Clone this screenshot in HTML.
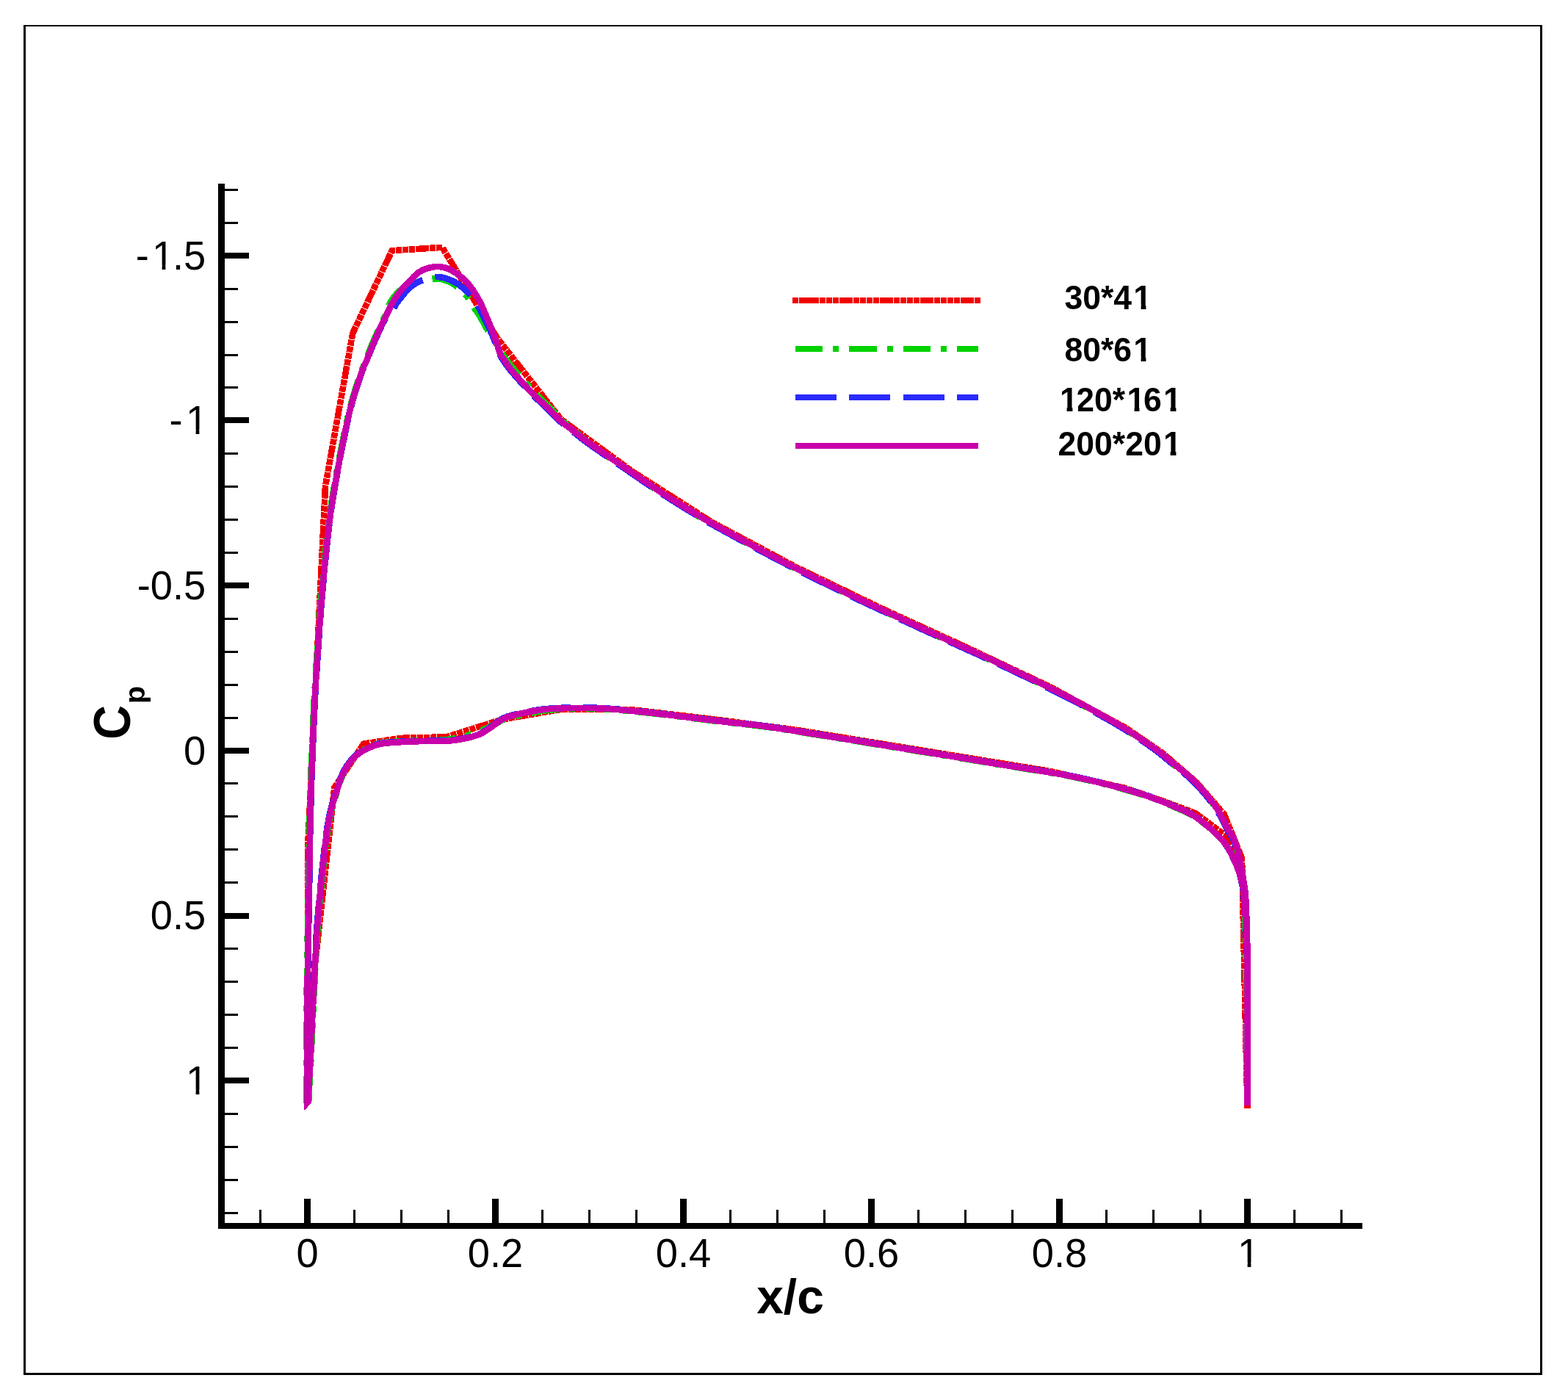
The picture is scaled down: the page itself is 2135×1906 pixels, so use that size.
<!DOCTYPE html>
<html lang="en"><head><meta charset="utf-8"><title>Cp distribution - grid convergence</title>
<style>
html,body{margin:0;padding:0;background:#fff;}
body{width:2135px;height:1906px;overflow:hidden;}
svg{display:block;}
text{font-family:"Liberation Sans",sans-serif;fill:#000;}
.tk{font-size:54.3px;}
.ttl{font-size:66px;font-weight:bold;}
.lg{font-size:44.5px;font-weight:bold;}
.c{fill:none;stroke-width:8.6;stroke-linejoin:miter;stroke-linecap:butt;}
</style></head><body>
<svg width="2135" height="1906" viewBox="0 0 2135 1906">
<defs><clipPath id="digits"><path clip-rule="evenodd" d="M0,0H2135V1906H0Z M209.7,360.8H220.6V368H209.7Z M225.4,360.8H236.3V368H225.4Z M255.7,584.8H266.6V592H255.7Z M271.4,584.8H282.3V592H271.4Z M255.7,1483.8H266.6V1491H255.7Z M271.4,1483.8H282.3V1491H271.4Z M1687.7,1718.8H1698.6V1726H1687.7Z M1703.4,1718.8H1714.3V1726H1703.4Z M1544.7,414.8H1553.6V422H1544.7Z M1560.4,414.8H1568.3V422H1560.4Z M1544.7,485.8H1553.6V493H1544.7Z M1560.4,485.8H1568.3V493H1560.4Z M1444.7,553.8H1452.6V561H1444.7Z M1460.4,553.8H1468V561H1460.4Z M1535.7,553.8H1544.6V561H1535.7Z M1551.4,553.8H1559.3V561H1551.4Z M1585.7,553.8H1593.6V561H1585.7Z M1601.4,553.8H1609.3V561H1601.4Z M1585.7,613.8H1593.6V621H1585.7Z M1601.4,613.8H1609.3V621H1601.4Z"/></clipPath></defs>
<rect x="0" y="0" width="2135" height="1906" fill="#fff"/>
<g fill="#000" shape-rendering="crispEdges">
<rect x="32" y="34" width="2068" height="2"/>
<rect x="32" y="1869" width="2068" height="3"/>
<rect x="32" y="34" width="3" height="1838"/>
<rect x="2097" y="34" width="3" height="1838"/>
<rect x="297" y="250" width="9" height="1423"/>
<rect x="297" y="1665" width="1558" height="8"/>
<rect x="306" y="257" width="18" height="3"/>
<rect x="306" y="302" width="18" height="3"/>
<rect x="306" y="344" width="33" height="8"/>
<rect x="306" y="392" width="18" height="3"/>
<rect x="306" y="437" width="18" height="3"/>
<rect x="306" y="482" width="18" height="3"/>
<rect x="306" y="526" width="18" height="3"/>
<rect x="306" y="568" width="33" height="8"/>
<rect x="306" y="616" width="18" height="3"/>
<rect x="306" y="661" width="18" height="3"/>
<rect x="306" y="706" width="18" height="3"/>
<rect x="306" y="751" width="18" height="3"/>
<rect x="306" y="793" width="33" height="8"/>
<rect x="306" y="841" width="18" height="3"/>
<rect x="306" y="886" width="18" height="3"/>
<rect x="306" y="931" width="18" height="3"/>
<rect x="306" y="976" width="18" height="3"/>
<rect x="306" y="1018" width="33" height="8"/>
<rect x="306" y="1065" width="18" height="3"/>
<rect x="306" y="1110" width="18" height="3"/>
<rect x="306" y="1155" width="18" height="3"/>
<rect x="306" y="1200" width="18" height="3"/>
<rect x="306" y="1243" width="33" height="8"/>
<rect x="306" y="1290" width="18" height="3"/>
<rect x="306" y="1335" width="18" height="3"/>
<rect x="306" y="1380" width="18" height="3"/>
<rect x="306" y="1425" width="18" height="3"/>
<rect x="306" y="1467" width="33" height="8"/>
<rect x="306" y="1515" width="18" height="3"/>
<rect x="306" y="1560" width="18" height="3"/>
<rect x="306" y="1605" width="18" height="3"/>
<rect x="306" y="1650" width="18" height="3"/>
<rect x="353" y="1647" width="3" height="18"/>
<rect x="414" y="1632" width="9" height="33"/>
<rect x="481" y="1647" width="3" height="18"/>
<rect x="545" y="1647" width="3" height="18"/>
<rect x="609" y="1647" width="3" height="18"/>
<rect x="670" y="1632" width="9" height="33"/>
<rect x="737" y="1647" width="3" height="18"/>
<rect x="801" y="1647" width="3" height="18"/>
<rect x="865" y="1647" width="3" height="18"/>
<rect x="926" y="1632" width="9" height="33"/>
<rect x="993" y="1647" width="3" height="18"/>
<rect x="1057" y="1647" width="3" height="18"/>
<rect x="1121" y="1647" width="3" height="18"/>
<rect x="1182" y="1632" width="9" height="33"/>
<rect x="1249" y="1647" width="3" height="18"/>
<rect x="1313" y="1647" width="3" height="18"/>
<rect x="1377" y="1647" width="3" height="18"/>
<rect x="1438" y="1632" width="9" height="33"/>
<rect x="1505" y="1647" width="3" height="18"/>
<rect x="1569" y="1647" width="3" height="18"/>
<rect x="1633" y="1647" width="3" height="18"/>
<rect x="1694" y="1632" width="9" height="33"/>
<rect x="1761" y="1647" width="3" height="18"/>
<rect x="1825" y="1647" width="3" height="18"/>
</g>
<g class="c" shape-rendering="crispEdges">
<path d="M418.5,1503.0 L419.3,1150.0 L443.0,662.0 L480.2,453.8 L533.7,341.2 L602.2,336.8 L677.0,460.3 L764.0,571.0 L860.9,641.8 L969.7,711.1 L1084.9,772.6 L1200.1,828.2 L1315.3,881.0 L1430.5,935.4 L1532.9,991.0 L1583.5,1025.6 L1629.5,1065.5 L1667.0,1109.0 L1691.0,1168.5 L1698.5,1509.0" stroke="#f00000" stroke-dasharray="18 1 8 1 8 1 8 1 8 1"/>
<path d="M418.5,1503.0 L420.0,1395.0 L455.4,1072.0 L495.0,1012.7 L545.3,1004.9 L608.0,1003.3 L683.6,979.5 L764.0,965.8 L860.1,966.2 L968.9,978.9 L1084.1,993.7 L1199.3,1012.4 L1314.5,1031.2 L1429.7,1049.9 L1532.1,1073.0 L1583.0,1090.3 L1628.0,1107.3 L1667.0,1136.2 L1691.0,1168.5" stroke="#f00000" stroke-dasharray="18 1 8 1 8 1 8 1 8 1"/>
<path d="M417.2,1502.0 L417.2,1494.4 L417.2,1486.9 L417.2,1479.4 L417.2,1472.0 L417.2,1464.4 L417.2,1456.6 L417.2,1448.5 L417.2,1440.0 L417.2,1428.6 L417.3,1416.8 L417.4,1404.6 L417.4,1392.0 L417.5,1379.0 L417.6,1365.7 L417.7,1352.0 L417.9,1338.0 L418.1,1319.7 L418.4,1300.1 L418.7,1279.7 L419.1,1258.9 L419.4,1238.1 L419.8,1217.8 L420.2,1198.3 L420.5,1180.0 L420.7,1166.5 L421.0,1153.6 L421.2,1141.2 L421.4,1129.1 L421.7,1117.2 L421.9,1105.1 L422.2,1092.8 L422.6,1080.0 L423.1,1065.2 L423.6,1049.8 L424.2,1034.0 L424.8,1018.1 L425.5,1002.5 L426.1,987.4 L426.8,973.1 L427.4,960.0 L427.8,951.6 L428.2,943.9 L428.7,936.7 L429.1,929.7 L429.5,922.7 L430.0,915.6 L430.5,908.1 L431.0,900.0 L431.8,888.7 L432.6,876.8 L433.4,864.4 L434.4,851.6 L435.3,838.6 L436.3,825.6 L437.4,812.7 L438.5,800.0 L439.7,787.3 L440.9,774.2 L442.2,761.0 L443.5,747.8 L444.9,735.0 L446.3,722.6 L447.7,710.8 L449.1,700.0 L450.1,692.9 L451.1,686.3 L452.0,680.0 L453.0,673.9 L454.0,668.0 L455.1,662.1 L456.1,656.1 L457.2,650.0 L458.3,643.8 L459.4,637.5 L460.6,631.3 L461.7,625.1 L462.9,618.8 L464.1,612.6 L465.4,606.3 L466.7,600.0 L468.1,593.4 L469.4,586.8 L470.8,580.1 L472.3,573.3 L473.8,566.7 L475.3,560.0 L477.0,553.5 L478.7,547.0 L480.5,540.7 L482.5,534.2 L484.6,527.6 L486.7,521.1 L488.8,514.9 L490.8,509.2 L492.6,504.2 L494.2,500.0 L494.8,498.4 L495.5,497.0 L496.0,495.7 L496.6,494.5 L497.1,493.4 L497.6,492.3 L498.1,491.2 L498.6,490.0 L499.1,488.8 L499.5,487.6 L499.8,486.5 L500.2,485.3 L500.6,484.1 L501.0,482.9 L501.5,481.5 L502.0,480.1 L503.0,477.5 L504.1,474.7 L505.4,471.6 L506.8,468.4 L508.2,465.1 L509.6,461.8 L511.0,458.6 L512.4,455.4 L513.8,452.3 L515.3,449.1 L516.8,445.9 L518.4,442.8 L519.9,439.7 L521.4,436.6 L522.7,433.6 L524.0,430.7 L524.9,428.4 L525.7,426.1 L526.5,423.9 L527.2,421.7 L527.9,419.6 L528.7,417.5 L529.5,415.5 L530.5,413.5 L531.5,411.7 L532.6,409.8 L533.8,408.0 L535.0,406.3 L536.2,404.6 L537.5,403.0 L538.7,401.5 L540.0,400.0 L541.1,398.8 L542.1,397.7 L543.2,396.6 L544.3,395.6 L545.5,394.7 L546.6,393.7 L547.8,392.9 L549.0,392.0 L550.3,391.2 L551.6,390.4 L553.0,389.7 L554.4,389.0 L555.8,388.3 L557.2,387.7 L558.6,387.1 L560.0,386.5 L561.4,386.0 L562.7,385.5 L564.1,385.0 L565.4,384.6 L566.8,384.2 L568.2,383.8 L569.6,383.4 L571.0,383.0 L572.5,382.6 L573.9,382.2 L575.4,381.8 L576.9,381.4 L578.4,381.1 L580.0,380.7 L581.5,380.5 L583.0,380.2 L584.5,380.0 L586.1,379.8 L587.7,379.6 L589.2,379.4 L590.8,379.3 L592.4,379.2 L593.9,379.2 L595.4,379.3 L596.8,379.4 L598.1,379.6 L599.5,379.8 L600.8,380.1 L602.2,380.4 L603.5,380.8 L604.7,381.1 L606.0,381.5 L607.1,381.9 L608.2,382.2 L609.3,382.7 L610.4,383.1 L611.5,383.5 L612.5,384.0 L613.5,384.5 L614.5,385.0 L615.4,385.5 L616.3,386.0 L617.2,386.5 L618.0,387.1 L618.8,387.7 L619.7,388.3 L620.5,388.9 L621.3,389.5 L622.2,390.2 L623.0,390.9 L623.9,391.6 L624.7,392.4 L625.5,393.2 L626.4,394.0 L627.2,394.7 L628.0,395.5 L628.8,396.2 L629.6,397.0 L630.5,397.7 L631.3,398.4 L632.1,399.2 L632.9,400.0 L633.7,400.8 L634.4,401.6 L635.2,402.6 L635.9,403.6 L636.6,404.6 L637.3,405.7 L638.0,406.7 L638.6,407.8 L639.3,408.9 L640.0,410.0 L640.7,411.1 L641.4,412.2 L642.0,413.3 L642.7,414.4 L643.4,415.6 L644.1,416.7 L644.8,417.8 L645.5,419.0 L646.4,420.3 L647.2,421.5 L648.2,422.8 L649.1,424.1 L650.0,425.4 L651.0,426.7 L651.9,428.1 L652.9,429.6 L654.1,431.6 L655.3,433.7 L656.5,435.9 L657.7,438.1 L658.9,440.4 L660.1,442.7 L661.3,444.9 L662.6,447.1 L663.9,449.2 L665.2,451.2 L666.5,453.3 L667.9,455.4 L669.2,457.4 L670.5,459.3 L671.6,461.2 L672.7,463.0 L673.4,464.2 L674.0,465.4 L674.5,466.6 L675.1,467.7 L675.6,468.8 L676.1,469.8 L676.7,470.9 L677.3,472.0 L678.0,473.1 L678.8,474.3 L679.6,475.4 L680.5,476.6 L681.3,477.7 L682.1,478.8 L682.9,479.9 L683.7,481.0 L684.3,482.0 L684.9,482.9 L685.5,483.8 L686.1,484.7 L686.7,485.6 L687.3,486.5 L687.9,487.5 L688.6,488.5 L689.6,489.9 L690.8,491.5 L692.0,493.1 L693.2,494.7 L694.5,496.3 L695.7,498.0 L697.0,499.5 L698.2,501.0 L699.3,502.3 L700.3,503.5 L701.3,504.6 L702.4,505.8 L703.4,506.9 L704.4,508.1 L705.5,509.2 L706.5,510.4 L707.5,511.6 L708.5,512.7 L709.5,513.9 L710.5,515.0 L711.5,516.2 L712.5,517.3 L713.6,518.5 L714.6,519.7 L715.7,521.0 L716.9,522.3 L718.1,523.5 L719.2,524.8 L720.4,526.1 L721.6,527.4 L722.8,528.7 L724.0,530.0 L725.2,531.2 L726.3,532.5 L727.4,533.7 L728.6,534.9 L729.8,536.1 L730.9,537.3 L732.1,538.6 L733.3,539.8 L734.6,541.1 L735.9,542.4 L737.2,543.8 L738.6,545.1 L739.9,546.4 L741.3,547.7 L742.7,549.1 L744.0,550.4 L745.4,551.7 L746.8,553.1 L748.2,554.4 L749.6,555.8 L750.9,557.1 L752.3,558.5 L753.5,559.7 L754.7,561.0 L755.5,562.0 L756.3,562.9 L757.0,563.7 L757.6,564.6 L758.3,565.5 L759.1,566.4 L759.9,567.4 L760.9,568.4 L762.9,570.4 L765.1,572.5 L767.6,574.7 L770.3,577.1 L773.2,579.5 L776.2,582.0 L779.2,584.5 L782.3,587.1 L786.5,590.6 L791.1,594.3 L795.9,598.2 L800.8,602.1 L805.8,606.0 L810.6,609.7 L815.2,613.2 L819.4,616.3 L822.1,618.3 L824.7,620.1 L827.1,621.7 L829.5,623.3 L831.8,624.9 L834.2,626.4 L836.7,628.1 L839.4,629.9 L842.9,632.3 L846.5,634.8 L850.2,637.3 L854.0,639.9 L857.9,642.6 L861.8,645.3 L865.6,647.9 L869.4,650.5 L873.1,653.1 L876.9,655.6 L880.6,658.2 L884.4,660.7 L888.1,663.3 L891.9,665.8 L895.6,668.3 L899.4,670.8 L903.1,673.2 L906.9,675.6 L910.6,678.0 L914.4,680.4 L918.1,682.7 L921.9,685.0 L925.6,687.4 L929.4,689.7 L933.1,692.0 L936.7,694.2 L940.3,696.4 L943.9,698.6 L947.6,700.9 L951.3,703.2 L955.3,705.5 L959.4,707.9 L965.0,711.1 L971.0,714.5 L977.2,717.9 L983.6,721.4 L990.1,725.0 L996.6,728.5 L1003.1,732.1 L1009.4,735.5 L1015.6,738.9 L1021.9,742.3 L1028.1,745.6 L1034.4,749.0 L1040.6,752.3 L1046.9,755.6 L1053.1,758.9 L1059.4,762.2 L1065.6,765.4 L1071.9,768.6 L1078.1,771.8 L1084.4,774.9 L1090.6,778.1 L1096.9,781.2 L1103.1,784.3 L1109.4,787.4 L1115.5,790.4 L1121.5,793.4 L1127.4,796.3 L1133.3,799.1 L1139.4,802.1 L1145.7,805.1 L1152.3,808.3 L1159.4,811.7 L1170.2,816.8 L1182.0,822.3 L1194.4,828.1 L1207.2,834.1 L1220.4,840.2 L1233.6,846.3 L1246.7,852.3 L1259.4,858.2 L1272.0,863.9 L1284.6,869.7 L1297.3,875.4 L1310.0,881.1 L1322.6,886.8 L1335.0,892.4 L1347.3,898.1 L1359.4,903.7 L1370.5,908.9 L1381.6,914.2 L1392.7,919.5 L1403.6,924.8 L1414.3,930.0 L1424.5,935.0 L1434.3,939.8 L1443.4,944.4 L1449.6,947.5 L1455.4,950.5 L1461.0,953.4 L1466.3,956.2 L1471.5,958.9 L1476.7,961.7 L1481.9,964.6 L1487.3,967.5 L1492.9,970.6 L1498.6,973.8 L1504.3,977.0 L1510.0,980.2 L1515.6,983.4 L1521.0,986.6 L1526.3,989.8 L1531.3,992.8 L1535.2,995.2 L1539.0,997.6 L1542.6,1000.0 L1546.2,1002.3 L1549.7,1004.6 L1553.0,1006.9 L1556.3,1009.1 L1559.4,1011.2 L1561.8,1012.8 L1564.1,1014.4 L1566.3,1015.9 L1568.4,1017.4 L1570.5,1018.9 L1572.6,1020.4 L1574.8,1022.0 L1577.0,1023.7 L1579.7,1025.8 L1582.5,1028.1 L1585.3,1030.4 L1588.2,1032.8 L1591.0,1035.2 L1593.9,1037.6 L1596.7,1039.9 L1599.4,1042.2 L1601.9,1044.2 L1604.4,1046.2 L1606.8,1048.1 L1609.2,1050.0 L1611.7,1052.0 L1614.1,1054.0 L1616.5,1056.0 L1618.9,1058.2 L1621.6,1060.7 L1624.3,1063.4 L1627.0,1066.1 L1629.8,1068.8 L1632.4,1071.7 L1635.1,1074.5 L1637.6,1077.4 L1640.1,1080.2 L1642.4,1082.9 L1644.6,1085.7 L1646.8,1088.4 L1649.0,1091.2 L1651.1,1094.0 L1653.1,1096.8 L1654.9,1099.5 L1656.7,1102.1 L1658.1,1104.3 L1659.3,1106.4 L1660.6,1108.5 L1661.7,1110.6 L1662.8,1112.7 L1663.9,1114.7 L1664.9,1116.7 L1665.9,1118.6 L1666.7,1120.2 L1667.5,1121.7 L1668.2,1123.3 L1668.9,1124.8 L1669.6,1126.2 L1670.3,1127.7 L1671.1,1129.2 L1671.9,1130.7 L1672.8,1132.3 L1673.9,1133.8 L1674.9,1135.4 L1676.0,1137.0 L1677.1,1138.5 L1678.1,1140.1 L1679.0,1141.7 L1679.8,1143.2 L1680.4,1144.5 L1680.9,1145.8 L1681.3,1147.1 L1681.7,1148.4 L1682.1,1149.8 L1682.5,1151.1 L1682.8,1152.4 L1683.2,1153.7 L1683.6,1155.1 L1684.0,1156.4 L1684.4,1157.8 L1684.7,1159.2 L1685.1,1160.6 L1685.4,1161.9 L1685.8,1163.3 L1686.1,1164.7 L1686.4,1166.1 L1686.7,1167.4 L1687.0,1168.8 L1687.3,1170.2 L1687.6,1171.6 L1687.8,1172.9 L1688.1,1174.3 L1688.4,1175.7 L1688.7,1177.1 L1689.0,1178.4 L1689.3,1179.8 L1689.5,1181.2 L1689.8,1182.6 L1690.1,1183.9 L1690.3,1185.3 L1690.6,1186.7 L1690.8,1188.1 L1691.1,1189.5 L1691.3,1190.8 L1691.6,1192.2 L1691.8,1193.6 L1692.0,1195.0 L1692.2,1196.3 L1692.3,1197.7 L1692.4,1199.0 L1692.5,1200.3 L1692.5,1201.5 L1692.5,1202.8 L1692.5,1204.1 L1692.6,1205.4 L1692.6,1206.7 L1692.7,1208.0 L1692.8,1209.4 L1693.0,1210.8 L1693.1,1212.1 L1693.3,1213.5 L1693.5,1214.9 L1693.7,1216.5 L1693.8,1218.2 L1694.0,1220.0 L1694.3,1223.9 L1694.5,1228.4 L1694.7,1233.3 L1694.9,1238.5 L1695.1,1244.0 L1695.3,1249.5 L1695.4,1254.8 L1695.6,1260.0 L1695.7,1264.9 L1695.9,1269.6 L1696.0,1274.2 L1696.1,1278.9 L1696.1,1283.7 L1696.2,1288.7 L1696.3,1294.1 L1696.4,1300.0 L1696.5,1310.3 L1696.7,1321.8 L1696.8,1334.1 L1696.9,1347.0 L1697.0,1360.3 L1697.2,1373.8 L1697.3,1387.1 L1697.4,1400.0 L1697.5,1413.0 L1697.6,1426.1 L1697.7,1439.2 L1697.9,1452.3 L1698.0,1465.5 L1698.1,1478.7 L1698.2,1491.9 L1698.3,1505.0" stroke="#00d200" stroke-dasharray="37.3 14 8 14"/>
<path d="M420.1,1502.0 L420.1,1500.6 L420.2,1499.2 L420.2,1497.9 L420.3,1496.5 L420.3,1495.1 L420.4,1493.6 L420.4,1491.9 L420.5,1490.0 L420.7,1485.3 L421.1,1479.5 L421.5,1472.9 L421.9,1465.9 L422.4,1458.9 L422.8,1452.0 L423.2,1445.6 L423.5,1440.0 L423.7,1436.8 L423.8,1434.0 L423.9,1431.3 L424.0,1428.8 L424.0,1426.2 L424.1,1423.5 L424.3,1420.5 L424.4,1417.0 L424.7,1409.4 L425.2,1400.6 L425.6,1390.8 L426.1,1380.5 L426.7,1369.7 L427.2,1358.9 L427.8,1348.2 L428.3,1338.0 L428.8,1328.1 L429.3,1318.2 L429.9,1308.4 L430.4,1298.5 L430.9,1288.6 L431.5,1278.7 L432.2,1268.9 L432.9,1259.0 L433.7,1249.0 L434.5,1238.9 L435.4,1228.7 L436.3,1218.5 L437.3,1208.5 L438.3,1198.6 L439.2,1189.1 L440.2,1180.0 L441.0,1172.7 L441.7,1165.6 L442.5,1158.6 L443.3,1151.7 L444.1,1145.1 L444.9,1138.7 L445.7,1132.7 L446.6,1127.0 L447.2,1123.2 L447.9,1119.5 L448.5,1116.0 L449.2,1112.7 L449.9,1109.4 L450.6,1106.2 L451.3,1103.1 L452.1,1100.0 L452.8,1097.3 L453.5,1094.8 L454.3,1092.2 L455.1,1089.8 L455.8,1087.3 L456.6,1084.9 L457.4,1082.5 L458.2,1080.0 L459.0,1077.5 L459.7,1075.0 L460.5,1072.6 L461.3,1070.1 L462.1,1067.6 L462.9,1065.2 L463.7,1062.8 L464.6,1060.5 L465.4,1058.4 L466.2,1056.4 L466.9,1054.4 L467.8,1052.5 L468.6,1050.6 L469.5,1048.7 L470.5,1046.8 L471.5,1045.0 L472.7,1043.1 L473.9,1041.2 L475.3,1039.4 L476.7,1037.5 L478.1,1035.8 L479.5,1034.1 L481.0,1032.5 L482.4,1031.0 L483.6,1029.8 L484.8,1028.6 L486.0,1027.6 L487.2,1026.6 L488.4,1025.6 L489.7,1024.7 L491.0,1023.8 L492.3,1022.9 L493.8,1021.9 L495.4,1020.9 L497.0,1020.0 L498.7,1019.2 L500.4,1018.3 L502.1,1017.5 L503.8,1016.7 L505.5,1016.0 L507.2,1015.3 L508.9,1014.6 L510.7,1014.0 L512.4,1013.4 L514.2,1012.9 L516.0,1012.4 L518.0,1011.9 L520.0,1011.5 L522.8,1011.0 L525.8,1010.6 L528.9,1010.3 L532.2,1010.1 L535.4,1009.9 L538.7,1009.7 L541.8,1009.5 L544.8,1009.3 L547.3,1009.1 L549.7,1009.0 L552.0,1008.8 L554.4,1008.7 L556.7,1008.6 L559.1,1008.5 L561.5,1008.4 L564.0,1008.3 L567.1,1008.2 L570.3,1008.2 L573.7,1008.2 L577.1,1008.1 L580.4,1008.1 L583.7,1008.1 L587.0,1008.1 L590.0,1008.0 L592.4,1007.9 L594.7,1007.9 L596.9,1007.9 L599.1,1007.8 L601.3,1007.7 L603.5,1007.6 L605.7,1007.4 L608.0,1007.2 L610.7,1006.8 L613.4,1006.4 L616.1,1005.9 L618.9,1005.3 L621.7,1004.7 L624.5,1004.1 L627.2,1003.4 L630.0,1002.8 L632.8,1002.0 L635.7,1001.2 L638.6,1000.4 L641.5,999.5 L644.3,998.7 L647.0,997.8 L649.6,996.9 L652.0,996.0 L653.7,995.3 L655.3,994.7 L656.8,994.0 L658.3,993.3 L659.8,992.6 L661.2,991.9 L662.6,991.3 L664.0,990.6 L665.3,990.0 L666.6,989.4 L667.8,988.8 L669.0,988.2 L670.3,987.6 L671.5,987.0 L672.7,986.4 L674.0,985.8 L675.4,985.1 L676.7,984.3 L678.1,983.6 L679.4,982.8 L680.8,982.0 L682.2,981.3 L683.6,980.6 L685.0,980.0 L686.3,979.5 L687.6,979.0 L688.9,978.7 L690.2,978.3 L691.5,978.0 L692.9,977.7 L694.4,977.3 L696.0,976.9 L698.6,976.3 L701.4,975.6 L704.5,974.8 L707.6,974.1 L710.8,973.4 L714.0,972.7 L717.1,972.0 L720.0,971.4 L722.4,970.9 L724.7,970.4 L726.9,970.0 L729.2,969.5 L731.4,969.1 L733.6,968.8 L735.8,968.4 L738.1,968.0 L740.5,967.7 L742.8,967.3 L745.2,967.0 L747.6,966.7 L750.0,966.4 L752.5,966.2 L755.1,965.9 L757.7,965.7 L761.1,965.4 L764.6,965.2 L768.3,965.0 L772.0,964.9 L775.8,964.7 L779.6,964.6 L783.4,964.5 L787.1,964.5 L790.8,964.4 L794.6,964.4 L798.4,964.4 L802.2,964.5 L806.0,964.6 L809.6,964.7 L813.2,964.8 L816.6,964.9 L819.2,965.0 L821.6,965.1 L823.9,965.3 L826.2,965.4 L828.5,965.6 L830.9,965.8 L833.5,966.0 L836.2,966.2 L840.5,966.5 L845.1,966.9 L849.9,967.4 L855.0,967.8 L860.1,968.3 L865.3,968.8 L870.4,969.3 L875.4,969.8 L880.3,970.3 L885.2,970.9 L890.1,971.4 L895.0,972.0 L899.9,972.5 L904.8,973.1 L909.7,973.7 L914.6,974.3 L919.5,974.9 L924.4,975.5 L929.3,976.1 L934.3,976.7 L939.2,977.4 L944.1,978.0 L949.0,978.6 L953.9,979.2 L958.8,979.8 L963.6,980.4 L968.4,981.0 L973.3,981.6 L978.1,982.1 L983.1,982.7 L988.0,983.3 L993.1,983.9 L998.7,984.5 L1004.2,985.1 L1009.7,985.7 L1015.4,986.3 L1021.2,986.9 L1027.2,987.6 L1033.4,988.3 L1040.0,989.2 L1049.7,990.6 L1060.1,992.1 L1071.0,993.8 L1082.3,995.5 L1093.7,997.4 L1105.3,999.3 L1116.7,1001.1 L1127.9,1002.9 L1138.9,1004.7 L1149.9,1006.4 L1160.9,1008.2 L1171.9,1010.0 L1182.8,1011.8 L1193.8,1013.6 L1204.8,1015.4 L1215.8,1017.2 L1226.9,1019.0 L1238.2,1020.8 L1249.6,1022.7 L1261.0,1024.5 L1272.2,1026.3 L1283.1,1028.1 L1293.6,1029.8 L1303.7,1031.5 L1311.3,1032.8 L1318.4,1033.9 L1325.2,1035.1 L1331.9,1036.2 L1338.6,1037.3 L1345.4,1038.5 L1352.5,1039.7 L1360.0,1040.9 L1370.0,1042.5 L1380.8,1044.2 L1392.0,1046.0 L1403.4,1047.8 L1414.7,1049.6 L1425.4,1051.3 L1435.3,1053.0 L1444.0,1054.5 L1448.7,1055.4 L1452.9,1056.1 L1456.7,1056.9 L1460.4,1057.6 L1464.0,1058.4 L1467.8,1059.2 L1471.7,1060.0 L1476.0,1061.0 L1482.3,1062.4 L1489.1,1064.0 L1496.2,1065.7 L1503.4,1067.5 L1510.8,1069.3 L1518.1,1071.2 L1525.2,1073.1 L1531.9,1075.0 L1537.8,1076.7 L1543.6,1078.4 L1549.4,1080.2 L1555.1,1082.0 L1560.6,1083.8 L1565.9,1085.6 L1571.0,1087.4 L1575.8,1089.1 L1579.2,1090.4 L1582.4,1091.6 L1585.4,1092.8 L1588.4,1094.1 L1591.2,1095.3 L1594.1,1096.5 L1597.0,1097.8 L1600.0,1099.1 L1603.2,1100.5 L1606.4,1101.8 L1609.6,1103.2 L1612.8,1104.6 L1616.0,1106.0 L1619.1,1107.5 L1622.1,1109.0 L1625.0,1110.7 L1627.6,1112.3 L1630.1,1114.0 L1632.5,1115.7 L1634.9,1117.6 L1637.2,1119.4 L1639.4,1121.2 L1641.5,1122.9 L1643.6,1124.6 L1645.2,1125.8 L1646.6,1127.0 L1648.1,1128.2 L1649.4,1129.4 L1650.8,1130.5 L1652.1,1131.7 L1653.4,1133.0 L1654.8,1134.2 L1656.3,1135.6 L1657.7,1137.0 L1659.2,1138.5 L1660.7,1140.0 L1662.1,1141.5 L1663.5,1143.0 L1664.9,1144.6 L1666.2,1146.2 L1667.4,1147.7 L1668.6,1149.4 L1669.7,1151.0 L1670.8,1152.7 L1671.9,1154.4 L1672.9,1156.0 L1673.9,1157.7 L1674.8,1159.3 L1675.6,1160.8 L1676.4,1162.2 L1677.1,1163.6 L1677.8,1165.0 L1678.5,1166.4 L1679.1,1167.8 L1679.8,1169.2 L1680.4,1170.6 L1681.0,1172.0 L1681.6,1173.4 L1682.2,1174.8 L1682.8,1176.2 L1683.4,1177.6 L1683.9,1179.0 L1684.5,1180.5 L1685.0,1181.9 L1685.5,1183.3 L1686.1,1184.7 L1686.6,1186.2 L1687.1,1187.6 L1687.6,1189.0 L1688.1,1190.4 L1688.6,1191.8 L1689.0,1193.2 L1689.3,1194.3 L1689.6,1195.3 L1689.9,1196.4 L1690.1,1197.4 L1690.4,1198.4 L1690.6,1199.5 L1690.9,1200.5 L1691.1,1201.5 L1691.3,1202.6 L1691.6,1203.6 L1691.8,1204.7 L1692.1,1205.7 L1692.3,1206.8 L1692.5,1207.9 L1692.7,1208.9 L1692.9,1210.0 L1693.1,1211.2 L1693.2,1212.3 L1693.3,1213.4 L1693.4,1214.6 L1693.6,1215.8 L1693.7,1217.0 L1693.8,1218.5 L1693.9,1220.0 L1694.2,1223.8 L1694.5,1228.2 L1694.9,1233.1 L1695.2,1238.4 L1695.6,1243.8 L1695.9,1249.4 L1696.2,1254.8 L1696.5,1260.0 L1696.8,1265.0 L1697.0,1270.0 L1697.2,1275.0 L1697.4,1280.0 L1697.6,1285.0 L1697.8,1290.0 L1698.0,1295.0 L1698.2,1300.0" stroke="#00d200" stroke-dasharray="37.3 14 8 14"/>
<path d="M418.3,1502.0 L418.3,1494.4 L418.3,1486.9 L418.3,1479.4 L418.3,1472.0 L418.3,1464.4 L418.3,1456.6 L418.3,1448.5 L418.3,1440.0 L418.3,1428.6 L418.4,1416.8 L418.5,1404.6 L418.5,1392.0 L418.6,1379.0 L418.7,1365.7 L418.8,1352.0 L419.0,1338.0 L419.2,1319.7 L419.5,1300.1 L419.8,1279.7 L420.2,1258.9 L420.5,1238.1 L420.9,1217.8 L421.3,1198.3 L421.6,1180.0 L421.8,1166.5 L422.1,1153.6 L422.3,1141.2 L422.5,1129.1 L422.8,1117.2 L423.0,1105.1 L423.3,1092.8 L423.7,1080.0 L424.2,1065.2 L424.7,1049.8 L425.3,1034.0 L425.9,1018.1 L426.6,1002.5 L427.2,987.4 L427.9,973.1 L428.5,960.0 L428.9,951.6 L429.3,943.9 L429.8,936.7 L430.2,929.7 L430.6,922.7 L431.1,915.6 L431.6,908.1 L432.1,900.0 L432.9,888.7 L433.7,876.8 L434.5,864.4 L435.5,851.6 L436.4,838.6 L437.4,825.6 L438.5,812.7 L439.6,800.0 L440.8,787.3 L442.0,774.2 L443.3,761.0 L444.6,747.8 L446.0,735.0 L447.4,722.6 L448.8,710.8 L450.2,700.0 L451.2,692.9 L452.2,686.3 L453.1,680.0 L454.1,673.9 L455.1,668.0 L456.2,662.1 L457.2,656.1 L458.3,650.0 L459.4,643.8 L460.5,637.5 L461.7,631.3 L462.8,625.1 L464.0,618.8 L465.2,612.6 L466.5,606.3 L467.8,600.0 L469.2,593.4 L470.5,586.8 L471.9,580.1 L473.4,573.3 L474.9,566.7 L476.4,560.0 L478.1,553.5 L479.8,547.0 L481.6,540.7 L483.6,534.2 L485.7,527.6 L487.8,521.1 L489.9,514.9 L491.9,509.2 L493.7,504.2 L495.3,500.0 L496.0,498.4 L496.6,497.0 L497.2,495.7 L497.8,494.5 L498.3,493.4 L498.8,492.3 L499.4,491.2 L499.9,490.0 L500.4,488.8 L500.8,487.6 L501.3,486.5 L501.7,485.3 L502.1,484.1 L502.6,482.8 L503.1,481.5 L503.7,480.0 L504.8,477.4 L506.0,474.4 L507.3,471.3 L508.7,467.9 L510.2,464.6 L511.6,461.2 L513.0,458.0 L514.4,455.0 L515.5,452.5 L516.7,449.9 L517.9,447.4 L519.0,444.9 L520.1,442.5 L521.2,440.3 L522.3,438.3 L523.3,436.5 L523.9,435.6 L524.4,434.8 L524.9,434.1 L525.4,433.4 L525.9,432.8 L526.4,432.1 L526.9,431.4 L527.5,430.7 L528.3,429.7 L529.1,428.7 L530.0,427.7 L530.9,426.7 L531.8,425.7 L532.7,424.6 L533.6,423.5 L534.4,422.4 L535.2,421.2 L535.9,420.0 L536.6,418.8 L537.3,417.5 L538.0,416.2 L538.7,415.0 L539.4,413.7 L540.2,412.5 L541.1,411.2 L542.1,410.0 L543.0,408.7 L544.1,407.5 L545.1,406.2 L546.1,405.0 L547.1,403.8 L548.1,402.6 L549.0,401.5 L549.9,400.4 L550.7,399.3 L551.6,398.2 L552.4,397.1 L553.3,396.0 L554.2,395.0 L555.2,394.0 L556.2,393.0 L557.2,392.1 L558.3,391.2 L559.4,390.3 L560.5,389.4 L561.6,388.6 L562.8,387.8 L564.0,387.0 L565.3,386.2 L566.6,385.5 L567.9,384.8 L569.3,384.1 L570.7,383.4 L572.1,382.8 L573.4,382.2 L574.8,381.6 L576.1,381.1 L577.3,380.6 L578.6,380.1 L579.9,379.7 L581.2,379.3 L582.4,378.9 L583.7,378.6 L585.0,378.3 L586.3,378.0 L587.6,377.8 L588.9,377.6 L590.2,377.4 L591.5,377.3 L592.8,377.2 L594.1,377.1 L595.4,377.1 L596.6,377.1 L597.7,377.2 L598.9,377.3 L600.0,377.5 L601.2,377.6 L602.3,377.8 L603.4,378.1 L604.5,378.3 L605.6,378.6 L606.7,378.9 L607.7,379.2 L608.8,379.5 L609.8,379.9 L610.9,380.3 L611.9,380.8 L613.0,381.2 L614.2,381.7 L615.5,382.3 L616.7,382.8 L618.0,383.5 L619.2,384.1 L620.5,384.8 L621.7,385.5 L622.9,386.2 L624.1,387.0 L625.3,387.8 L626.4,388.7 L627.5,389.6 L628.6,390.6 L629.8,391.5 L630.9,392.5 L632.0,393.5 L633.2,394.6 L634.4,395.6 L635.6,396.7 L636.9,397.8 L638.1,399.0 L639.2,400.2 L640.4,401.4 L641.5,402.7 L642.7,404.2 L643.8,405.7 L644.9,407.2 L646.0,408.9 L647.0,410.5 L648.1,412.2 L649.1,413.8 L650.1,415.5 L651.1,417.2 L652.1,418.9 L653.1,420.6 L654.0,422.3 L654.9,424.1 L655.9,425.9 L656.8,427.7 L657.8,429.6 L658.9,431.8 L660.1,434.1 L661.3,436.5 L662.5,438.9 L663.7,441.4 L664.8,443.8 L665.9,446.2 L667.0,448.5 L667.9,450.6 L668.9,452.8 L669.8,455.0 L670.7,457.2 L671.5,459.3 L672.3,461.3 L673.1,463.1 L673.8,464.7 L674.2,465.5 L674.5,466.2 L674.8,466.8 L675.2,467.4 L675.5,468.0 L675.8,468.6 L676.1,469.2 L676.4,470.0 L676.9,471.3 L677.3,472.7 L677.7,474.2 L678.1,475.8 L678.5,477.5 L679.0,479.2 L679.6,480.9 L680.4,482.6 L681.7,485.1 L683.4,487.8 L685.2,490.7 L687.2,493.5 L689.2,496.4 L691.3,499.1 L693.2,501.6 L694.9,503.9 L696.0,505.3 L697.1,506.6 L698.1,507.8 L699.1,509.0 L700.2,510.1 L701.2,511.2 L702.2,512.3 L703.2,513.5 L704.2,514.7 L705.2,515.8 L706.2,517.0 L707.2,518.1 L708.3,519.3 L709.3,520.5 L710.3,521.6 L711.4,522.8 L712.6,524.1 L713.7,525.3 L714.9,526.6 L716.1,527.9 L717.3,529.2 L718.6,530.5 L719.8,531.7 L721.0,533.0 L722.2,534.2 L723.4,535.4 L724.6,536.6 L725.7,537.8 L726.9,539.0 L728.1,540.2 L729.4,541.4 L730.6,542.6 L731.9,543.9 L733.3,545.2 L734.7,546.5 L736.1,547.8 L737.4,549.1 L738.8,550.4 L740.2,551.7 L741.6,553.0 L743.0,554.4 L744.4,555.8 L745.9,557.2 L747.3,558.6 L748.7,560.0 L750.1,561.3 L751.4,562.6 L752.6,563.9 L753.5,564.8 L754.3,565.7 L755.0,566.5 L755.7,567.4 L756.5,568.2 L757.3,569.0 L758.2,569.9 L759.2,570.9 L761.2,572.6 L763.4,574.5 L765.9,576.5 L768.5,578.6 L771.2,580.7 L773.9,582.8 L776.6,584.9 L779.2,586.9 L781.7,588.9 L784.2,590.9 L786.7,592.8 L789.2,594.8 L791.7,596.8 L794.2,598.7 L796.7,600.6 L799.2,602.5 L801.7,604.3 L804.2,606.1 L806.7,607.9 L809.2,609.6 L811.7,611.3 L814.2,613.1 L816.7,614.8 L819.2,616.5 L821.7,618.2 L824.1,619.9 L826.5,621.5 L828.9,623.1 L831.4,624.8 L833.9,626.5 L836.5,628.3 L839.2,630.1 L842.7,632.5 L846.3,635.0 L850.0,637.5 L853.8,640.1 L857.7,642.8 L861.6,645.5 L865.4,648.1 L869.2,650.7 L872.9,653.3 L876.7,655.8 L880.4,658.4 L884.2,660.9 L887.9,663.5 L891.7,666.0 L895.4,668.5 L899.2,671.0 L902.9,673.4 L906.7,675.8 L910.4,678.2 L914.2,680.6 L917.9,682.9 L921.7,685.2 L925.4,687.6 L929.2,689.9 L932.9,692.2 L936.5,694.4 L940.1,696.6 L943.7,698.8 L947.4,701.1 L951.1,703.4 L955.1,705.7 L959.2,708.1 L964.8,711.3 L970.8,714.7 L977.0,718.1 L983.4,721.6 L989.9,725.2 L996.4,728.7 L1002.9,732.3 L1009.2,735.7 L1015.4,739.1 L1021.7,742.5 L1027.9,745.8 L1034.2,749.2 L1040.4,752.5 L1046.7,755.8 L1052.9,759.1 L1059.2,762.4 L1065.4,765.6 L1071.7,768.8 L1077.9,772.0 L1084.2,775.1 L1090.4,778.3 L1096.7,781.4 L1102.9,784.5 L1109.2,787.6 L1115.3,790.6 L1121.3,793.6 L1127.2,796.5 L1133.1,799.3 L1139.2,802.3 L1145.5,805.3 L1152.1,808.5 L1159.2,811.9 L1170.0,817.0 L1181.8,822.5 L1194.2,828.3 L1207.0,834.3 L1220.2,840.4 L1233.4,846.5 L1246.5,852.5 L1259.2,858.4 L1271.8,864.1 L1284.4,869.9 L1297.1,875.6 L1309.8,881.3 L1322.4,887.0 L1334.8,892.6 L1347.1,898.3 L1359.2,903.9 L1370.3,909.1 L1381.4,914.4 L1392.5,919.7 L1403.4,925.0 L1414.1,930.2 L1424.3,935.2 L1434.1,940.0 L1443.2,944.6 L1449.4,947.7 L1455.2,950.7 L1460.8,953.6 L1466.1,956.4 L1471.3,959.1 L1476.5,961.9 L1481.7,964.8 L1487.1,967.7 L1492.7,970.8 L1498.4,974.0 L1504.1,977.2 L1509.8,980.4 L1515.4,983.6 L1520.8,986.8 L1526.1,990.0 L1531.1,993.0 L1535.0,995.4 L1538.8,997.8 L1542.4,1000.2 L1546.0,1002.5 L1549.5,1004.8 L1552.8,1007.1 L1556.1,1009.3 L1559.2,1011.4 L1561.6,1013.0 L1563.9,1014.6 L1566.1,1016.1 L1568.2,1017.6 L1570.3,1019.1 L1572.4,1020.6 L1574.6,1022.2 L1576.8,1023.9 L1579.5,1026.0 L1582.3,1028.3 L1585.1,1030.6 L1588.0,1033.0 L1590.8,1035.4 L1593.7,1037.8 L1596.5,1040.1 L1599.2,1042.4 L1601.7,1044.4 L1604.2,1046.4 L1606.6,1048.3 L1609.0,1050.2 L1611.5,1052.2 L1613.9,1054.2 L1616.3,1056.2 L1618.7,1058.4 L1621.4,1060.9 L1624.1,1063.6 L1626.8,1066.3 L1629.6,1069.0 L1632.2,1071.9 L1634.9,1074.7 L1637.4,1077.6 L1639.9,1080.4 L1642.2,1083.1 L1644.4,1085.9 L1646.6,1088.6 L1648.8,1091.4 L1650.9,1094.2 L1652.9,1097.0 L1654.7,1099.7 L1656.5,1102.3 L1657.9,1104.5 L1659.1,1106.6 L1660.4,1108.7 L1661.5,1110.8 L1662.6,1112.9 L1663.7,1114.9 L1664.7,1116.9 L1665.7,1118.8 L1666.5,1120.4 L1667.3,1121.9 L1668.0,1123.5 L1668.7,1125.0 L1669.4,1126.4 L1670.1,1127.9 L1670.9,1129.4 L1671.7,1130.9 L1672.6,1132.5 L1673.7,1134.0 L1674.7,1135.6 L1675.8,1137.2 L1676.9,1138.7 L1677.9,1140.3 L1678.8,1141.9 L1679.6,1143.4 L1680.2,1144.7 L1680.7,1146.0 L1681.1,1147.3 L1681.5,1148.6 L1681.9,1150.0 L1682.3,1151.3 L1682.6,1152.6 L1683.0,1153.9 L1683.4,1155.3 L1683.8,1156.6 L1684.2,1158.0 L1684.5,1159.4 L1684.9,1160.8 L1685.2,1162.1 L1685.6,1163.5 L1685.9,1164.9 L1686.2,1166.3 L1686.5,1167.6 L1686.8,1169.0 L1687.1,1170.4 L1687.4,1171.8 L1687.6,1173.1 L1687.9,1174.5 L1688.2,1175.9 L1688.5,1177.3 L1688.8,1178.6 L1689.1,1180.0 L1689.3,1181.4 L1689.6,1182.8 L1689.9,1184.1 L1690.1,1185.5 L1690.4,1186.9 L1690.6,1188.3 L1690.8,1189.7 L1691.0,1191.0 L1691.2,1192.4 L1691.4,1193.8 L1691.6,1195.2 L1691.8,1196.6 L1692.1,1197.9 L1692.4,1199.2 L1692.7,1200.4 L1693.0,1201.7 L1693.4,1202.9 L1693.7,1204.2 L1694.0,1205.4 L1694.3,1206.7 L1694.6,1208.0 L1694.8,1209.4 L1695.0,1210.8 L1695.2,1212.1 L1695.4,1213.5 L1695.5,1214.9 L1695.6,1216.5 L1695.8,1218.2 L1695.9,1220.0 L1696.2,1223.9 L1696.4,1228.4 L1696.6,1233.3 L1696.9,1238.5 L1697.1,1244.0 L1697.3,1249.4 L1697.4,1254.8 L1697.6,1260.0 L1697.7,1264.9 L1697.9,1269.6 L1698.0,1274.2 L1698.1,1278.9 L1698.2,1283.7 L1698.3,1288.7 L1698.3,1294.1 L1698.4,1300.0 L1698.5,1310.3 L1698.5,1321.8 L1698.5,1334.1 L1698.5,1347.0 L1698.5,1360.3 L1698.5,1373.8 L1698.5,1387.1 L1698.5,1400.0 L1698.5,1413.0 L1698.5,1426.1 L1698.5,1439.2 L1698.5,1452.3 L1698.5,1465.5 L1698.5,1478.7 L1698.5,1491.9 L1698.5,1505.0" stroke="#2a2aff" stroke-dasharray="56 17.3"/>
<path d="M419.0,1501.5 L419.0,1500.1 L419.1,1498.7 L419.1,1497.4 L419.2,1496.0 L419.2,1494.6 L419.3,1493.1 L419.3,1491.4 L419.4,1489.5 L419.6,1484.8 L420.0,1479.0 L420.4,1472.4 L420.8,1465.4 L421.3,1458.4 L421.7,1451.5 L422.1,1445.1 L422.4,1439.5 L422.6,1436.3 L422.7,1433.5 L422.8,1430.8 L422.9,1428.3 L422.9,1425.7 L423.0,1423.0 L423.2,1420.0 L423.3,1416.5 L423.6,1408.9 L424.1,1400.1 L424.5,1390.3 L425.0,1380.0 L425.6,1369.2 L426.1,1358.4 L426.7,1347.7 L427.2,1337.5 L427.7,1327.6 L428.2,1317.7 L428.8,1307.9 L429.3,1298.0 L429.8,1288.1 L430.4,1278.2 L431.1,1268.4 L431.8,1258.5 L432.6,1248.5 L433.4,1238.4 L434.3,1228.2 L435.2,1218.0 L436.2,1208.0 L437.2,1198.1 L438.1,1188.6 L439.1,1179.5 L439.9,1172.2 L440.6,1165.1 L441.4,1158.1 L442.2,1151.2 L443.0,1144.6 L443.8,1138.2 L444.6,1132.2 L445.5,1126.5 L446.1,1122.7 L446.8,1119.0 L447.4,1115.5 L448.1,1112.2 L448.8,1108.9 L449.5,1105.7 L450.2,1102.6 L451.0,1099.5 L451.7,1096.8 L452.4,1094.3 L453.2,1091.7 L454.0,1089.3 L454.7,1086.8 L455.5,1084.4 L456.3,1082.0 L457.1,1079.5 L457.9,1077.0 L458.6,1074.5 L459.4,1072.0 L460.2,1069.6 L460.9,1067.1 L461.8,1064.7 L462.6,1062.3 L463.5,1060.0 L464.3,1057.9 L465.2,1055.9 L466.1,1053.9 L466.9,1052.0 L467.9,1050.1 L468.9,1048.2 L469.9,1046.3 L471.0,1044.5 L472.2,1042.7 L473.5,1040.8 L474.8,1039.0 L476.2,1037.2 L477.6,1035.4 L479.0,1033.8 L480.5,1032.2 L481.9,1030.7 L483.1,1029.5 L484.3,1028.4 L485.5,1027.4 L486.7,1026.4 L487.9,1025.5 L489.2,1024.6 L490.5,1023.7 L491.8,1022.8 L493.3,1021.9 L494.9,1021.0 L496.5,1020.1 L498.2,1019.2 L499.9,1018.4 L501.6,1017.6 L503.3,1016.9 L505.0,1016.2 L506.7,1015.5 L508.4,1014.9 L510.2,1014.3 L511.9,1013.8 L513.7,1013.3 L515.6,1012.8 L517.5,1012.4 L519.5,1012.0 L522.3,1011.5 L525.3,1011.2 L528.4,1010.9 L531.7,1010.6 L534.9,1010.4 L538.2,1010.2 L541.3,1010.0 L544.3,1009.8 L546.8,1009.6 L549.2,1009.5 L551.5,1009.3 L553.9,1009.2 L556.2,1009.1 L558.6,1009.0 L561.0,1008.9 L563.5,1008.8 L566.6,1008.7 L569.8,1008.7 L573.2,1008.6 L576.6,1008.6 L579.9,1008.6 L583.2,1008.5 L586.5,1008.5 L589.5,1008.5 L591.9,1008.5 L594.2,1008.5 L596.4,1008.5 L598.6,1008.5 L600.8,1008.5 L603.0,1008.5 L605.2,1008.4 L607.5,1008.3 L610.2,1008.1 L612.9,1007.9 L615.6,1007.6 L618.4,1007.3 L621.2,1006.9 L624.0,1006.5 L626.7,1006.0 L629.5,1005.5 L632.3,1004.9 L635.2,1004.3 L638.1,1003.6 L641.0,1002.9 L643.8,1002.1 L646.5,1001.3 L649.1,1000.4 L651.5,999.5 L653.2,998.7 L654.8,997.9 L656.4,997.1 L657.9,996.3 L659.3,995.4 L660.7,994.5 L662.1,993.6 L663.5,992.7 L664.8,991.9 L666.1,991.0 L667.3,990.2 L668.5,989.3 L669.8,988.4 L671.0,987.6 L672.2,986.7 L673.5,985.8 L674.8,984.8 L676.2,983.8 L677.6,982.8 L678.9,981.8 L680.3,980.7 L681.7,979.8 L683.1,978.9 L684.5,978.1 L685.8,977.5 L687.1,976.9 L688.4,976.4 L689.7,975.9 L691.0,975.5 L692.4,975.1 L693.9,974.7 L695.5,974.2 L698.1,973.5 L700.9,972.8 L703.9,972.0 L707.1,971.3 L710.3,970.6 L713.5,969.9 L716.6,969.3 L719.5,968.7 L721.9,968.2 L724.2,967.8 L726.4,967.4 L728.7,967.1 L730.9,966.7 L733.1,966.4 L735.3,966.1 L737.6,965.8 L740.0,965.5 L742.3,965.3 L744.7,965.0 L747.1,964.8 L749.5,964.6 L752.0,964.4 L754.6,964.3 L757.2,964.1 L760.6,963.9 L764.1,963.8 L767.8,963.6 L771.5,963.5 L775.3,963.4 L779.1,963.4 L782.9,963.3 L786.6,963.3 L790.3,963.3 L794.1,963.3 L797.9,963.4 L801.7,963.4 L805.5,963.5 L809.1,963.6 L812.7,963.8 L816.1,963.9 L818.7,964.0 L821.1,964.1 L823.4,964.3 L825.7,964.4 L828.0,964.6 L830.4,964.8 L833.0,965.0 L835.7,965.2 L840.0,965.5 L844.6,965.9 L849.4,966.4 L854.5,966.8 L859.6,967.3 L864.8,967.8 L869.9,968.3 L874.9,968.8 L879.8,969.3 L884.7,969.9 L889.6,970.4 L894.5,971.0 L899.4,971.5 L904.3,972.1 L909.2,972.7 L914.1,973.3 L919.0,973.9 L923.9,974.5 L928.8,975.1 L933.8,975.7 L938.7,976.4 L943.6,977.0 L948.5,977.6 L953.4,978.2 L958.3,978.8 L963.1,979.4 L967.9,980.0 L972.8,980.6 L977.6,981.1 L982.6,981.7 L987.5,982.3 L992.6,982.9 L998.2,983.5 L1003.7,984.1 L1009.2,984.7 L1014.9,985.3 L1020.7,985.9 L1026.7,986.6 L1032.9,987.3 L1039.5,988.2 L1049.2,989.6 L1059.6,991.1 L1070.5,992.8 L1081.8,994.5 L1093.2,996.4 L1104.8,998.3 L1116.2,1000.1 L1127.4,1001.9 L1138.4,1003.7 L1149.4,1005.4 L1160.4,1007.2 L1171.4,1009.0 L1182.3,1010.8 L1193.3,1012.6 L1204.3,1014.4 L1215.3,1016.2 L1226.4,1018.0 L1237.7,1019.8 L1249.1,1021.7 L1260.5,1023.5 L1271.7,1025.3 L1282.6,1027.1 L1293.1,1028.8 L1303.2,1030.5 L1310.8,1031.8 L1317.9,1032.9 L1324.7,1034.1 L1331.4,1035.2 L1338.1,1036.3 L1344.9,1037.5 L1352.0,1038.7 L1359.5,1039.9 L1369.5,1041.5 L1380.3,1043.2 L1391.5,1045.0 L1402.9,1046.8 L1414.2,1048.6 L1424.9,1050.3 L1434.8,1052.0 L1443.5,1053.5 L1448.2,1054.4 L1452.4,1055.1 L1456.2,1055.9 L1459.9,1056.6 L1463.5,1057.4 L1467.3,1058.2 L1471.2,1059.0 L1475.5,1060.0 L1481.8,1061.4 L1488.6,1063.0 L1495.7,1064.7 L1502.9,1066.5 L1510.3,1068.3 L1517.6,1070.2 L1524.7,1072.1 L1531.4,1074.0 L1537.3,1075.7 L1543.1,1077.4 L1548.9,1079.2 L1554.6,1081.0 L1560.1,1082.8 L1565.4,1084.6 L1570.5,1086.4 L1575.3,1088.1 L1578.7,1089.4 L1581.9,1090.6 L1584.9,1091.8 L1587.9,1093.0 L1590.7,1094.3 L1593.6,1095.5 L1596.5,1096.8 L1599.5,1098.1 L1602.7,1099.5 L1605.9,1100.8 L1609.1,1102.2 L1612.3,1103.6 L1615.5,1105.1 L1618.6,1106.6 L1621.6,1108.2 L1624.5,1109.8 L1627.1,1111.4 L1629.6,1113.1 L1632.0,1114.9 L1634.4,1116.7 L1636.7,1118.6 L1638.9,1120.4 L1641.0,1122.1 L1643.1,1123.8 L1644.7,1125.1 L1646.1,1126.3 L1647.6,1127.5 L1648.9,1128.6 L1650.3,1129.8 L1651.6,1131.0 L1652.9,1132.2 L1654.3,1133.5 L1655.8,1134.9 L1657.2,1136.3 L1658.7,1137.8 L1660.2,1139.3 L1661.6,1140.8 L1663.0,1142.3 L1664.4,1143.9 L1665.7,1145.5 L1666.9,1147.1 L1668.1,1148.7 L1669.2,1150.4 L1670.3,1152.0 L1671.4,1153.7 L1672.4,1155.4 L1673.4,1157.1 L1674.3,1158.7 L1675.1,1160.1 L1675.9,1161.6 L1676.6,1163.0 L1677.3,1164.4 L1678.0,1165.8 L1678.6,1167.2 L1679.3,1168.6 L1679.9,1170.0 L1680.5,1171.4 L1681.1,1172.8 L1681.7,1174.2 L1682.3,1175.6 L1682.9,1177.0 L1683.4,1178.5 L1684.0,1179.9 L1684.5,1181.3 L1685.0,1182.7 L1685.6,1184.2 L1686.1,1185.6 L1686.6,1187.0 L1687.1,1188.5 L1687.6,1189.9 L1688.1,1191.3 L1688.5,1192.6 L1688.8,1193.7 L1689.1,1194.8 L1689.4,1195.8 L1689.6,1196.9 L1689.9,1197.9 L1690.1,1198.9 L1690.4,1200.0 L1690.6,1201.0 L1690.8,1202.1 L1691.1,1203.1 L1691.3,1204.1 L1691.6,1205.2 L1691.8,1206.3 L1692.0,1207.3 L1692.2,1208.4 L1692.4,1209.5 L1692.6,1210.7 L1692.7,1211.8 L1692.8,1212.9 L1692.9,1214.0 L1693.1,1215.2 L1693.2,1216.5 L1693.3,1217.9 L1693.4,1219.5 L1693.7,1223.2 L1694.0,1227.6 L1694.4,1232.5 L1694.7,1237.8 L1695.1,1243.3 L1695.4,1248.9 L1695.7,1254.3 L1696.0,1259.5 L1696.3,1264.5 L1696.5,1269.5 L1696.7,1274.5 L1696.9,1279.5 L1697.1,1284.5 L1697.3,1289.5 L1697.5,1294.5 L1697.7,1299.5" stroke="#2a2aff" stroke-dasharray="56 17.3"/>
<path d="M418.0,1502.0 L418.0,1494.4 L418.0,1486.9 L418.0,1479.4 L418.0,1472.0 L418.0,1464.4 L418.0,1456.6 L418.0,1448.5 L418.0,1440.0 L418.0,1428.6 L418.1,1416.8 L418.2,1404.6 L418.2,1392.0 L418.3,1379.0 L418.4,1365.7 L418.5,1352.0 L418.7,1338.0 L418.9,1319.7 L419.2,1300.1 L419.5,1279.7 L419.9,1258.9 L420.2,1238.1 L420.6,1217.8 L421.0,1198.3 L421.3,1180.0 L421.5,1166.5 L421.8,1153.6 L422.0,1141.2 L422.2,1129.1 L422.5,1117.2 L422.7,1105.1 L423.0,1092.8 L423.4,1080.0 L423.9,1065.2 L424.4,1049.8 L425.0,1034.0 L425.6,1018.1 L426.3,1002.5 L426.9,987.4 L427.6,973.1 L428.2,960.0 L428.6,951.6 L429.0,943.9 L429.5,936.7 L429.9,929.7 L430.3,922.7 L430.8,915.6 L431.3,908.1 L431.8,900.0 L432.6,888.7 L433.4,876.8 L434.2,864.4 L435.2,851.6 L436.1,838.6 L437.1,825.6 L438.2,812.7 L439.3,800.0 L440.5,787.3 L441.7,774.2 L443.0,761.0 L444.3,747.8 L445.7,735.0 L447.1,722.6 L448.5,710.8 L449.9,700.0 L450.9,692.9 L451.9,686.3 L452.8,680.0 L453.8,673.9 L454.8,668.0 L455.9,662.1 L456.9,656.1 L458.0,650.0 L459.1,643.8 L460.2,637.5 L461.4,631.3 L462.5,625.1 L463.7,618.8 L464.9,612.6 L466.2,606.3 L467.5,600.0 L468.9,593.4 L470.2,586.8 L471.6,580.1 L473.1,573.3 L474.6,566.7 L476.1,560.0 L477.8,553.5 L479.5,547.0 L481.3,540.7 L483.3,534.2 L485.4,527.6 L487.5,521.1 L489.6,514.9 L491.6,509.2 L493.4,504.2 L495.0,500.0 L495.7,498.4 L496.3,497.0 L496.9,495.7 L497.5,494.5 L498.0,493.4 L498.6,492.3 L499.1,491.2 L499.6,490.0 L500.1,488.8 L500.5,487.6 L500.9,486.5 L501.3,485.3 L501.7,484.1 L502.2,482.9 L502.6,481.5 L503.2,480.1 L504.2,477.5 L505.4,474.7 L506.6,471.6 L508.0,468.4 L509.4,465.1 L510.8,461.8 L512.2,458.6 L513.6,455.4 L515.0,452.3 L516.4,449.2 L517.8,446.1 L519.3,443.0 L520.7,439.9 L522.2,436.9 L523.7,433.8 L525.2,430.7 L526.8,427.5 L528.4,424.3 L530.0,421.0 L531.6,417.7 L533.2,414.5 L534.9,411.4 L536.5,408.6 L538.1,405.9 L539.3,404.1 L540.5,402.4 L541.6,400.8 L542.8,399.3 L543.9,397.8 L545.1,396.3 L546.3,394.9 L547.5,393.5 L548.6,392.2 L549.7,391.0 L550.8,389.8 L551.9,388.6 L553.1,387.4 L554.2,386.2 L555.4,385.0 L556.7,383.7 L558.3,382.1 L560.0,380.3 L561.7,378.6 L563.4,376.7 L565.3,375.0 L567.1,373.3 L568.9,371.8 L570.7,370.5 L572.2,369.5 L573.7,368.7 L575.2,367.9 L576.8,367.2 L578.3,366.6 L579.9,366.0 L581.4,365.5 L583.0,365.0 L584.5,364.6 L586.1,364.2 L587.7,363.9 L589.3,363.6 L590.9,363.3 L592.4,363.2 L593.9,363.1 L595.4,363.0 L596.6,363.0 L597.8,363.1 L598.9,363.2 L600.1,363.3 L601.2,363.5 L602.3,363.7 L603.4,363.9 L604.5,364.2 L605.6,364.5 L606.6,364.7 L607.6,365.0 L608.7,365.4 L609.7,365.7 L610.7,366.2 L611.8,366.6 L613.0,367.2 L614.9,368.2 L616.9,369.4 L619.0,370.7 L621.2,372.1 L623.4,373.6 L625.6,375.2 L627.6,376.8 L629.5,378.3 L631.0,379.7 L632.5,381.0 L633.9,382.4 L635.2,383.8 L636.5,385.2 L637.8,386.7 L639.1,388.3 L640.4,390.0 L642.0,392.2 L643.7,394.5 L645.3,397.0 L647.0,399.6 L648.5,402.2 L650.1,404.8 L651.6,407.4 L653.0,410.0 L654.3,412.5 L655.5,414.9 L656.6,417.4 L657.7,419.9 L658.8,422.5 L659.9,425.0 L660.9,427.5 L662.0,430.0 L663.1,432.5 L664.1,435.0 L665.2,437.5 L666.2,440.0 L667.2,442.5 L668.2,445.0 L669.2,447.5 L670.2,450.0 L671.2,452.5 L672.1,455.1 L673.0,457.7 L673.9,460.3 L674.8,462.9 L675.7,465.3 L676.5,467.7 L677.3,470.0 L677.9,471.7 L678.4,473.3 L678.8,474.9 L679.3,476.4 L679.8,477.9 L680.3,479.4 L680.8,480.8 L681.4,482.1 L682.0,483.2 L682.5,484.2 L683.1,485.2 L683.8,486.1 L684.4,487.0 L685.1,488.0 L685.8,488.9 L686.5,490.0 L687.5,491.5 L688.6,493.1 L689.7,494.8 L690.9,496.5 L692.1,498.2 L693.3,499.8 L694.5,501.5 L695.7,503.0 L696.7,504.3 L697.8,505.5 L698.8,506.7 L699.8,507.9 L700.9,509.1 L701.9,510.3 L703.0,511.4 L704.0,512.6 L705.0,513.8 L706.0,514.9 L707.0,516.1 L708.0,517.2 L709.1,518.4 L710.1,519.6 L711.1,520.7 L712.2,521.9 L713.4,523.2 L714.5,524.4 L715.7,525.7 L716.9,527.0 L718.1,528.3 L719.4,529.6 L720.6,530.8 L721.8,532.1 L723.0,533.3 L724.2,534.5 L725.4,535.7 L726.5,536.9 L727.7,538.1 L728.9,539.3 L730.2,540.5 L731.4,541.7 L732.7,543.0 L734.1,544.3 L735.5,545.6 L736.9,546.9 L738.2,548.2 L739.6,549.5 L741.0,550.8 L742.4,552.1 L743.8,553.5 L745.2,554.9 L746.7,556.3 L748.1,557.7 L749.5,559.1 L750.9,560.4 L752.2,561.7 L753.4,563.0 L754.3,563.9 L755.1,564.8 L755.8,565.6 L756.5,566.5 L757.3,567.3 L758.1,568.1 L759.0,569.0 L760.0,570.0 L762.0,571.7 L764.2,573.6 L766.7,575.6 L769.3,577.7 L772.0,579.8 L774.7,581.9 L777.4,584.0 L780.0,586.0 L782.5,588.0 L785.0,590.0 L787.5,591.9 L790.0,593.9 L792.5,595.9 L795.0,597.8 L797.5,599.7 L800.0,601.6 L802.5,603.4 L805.0,605.2 L807.5,607.0 L810.0,608.7 L812.5,610.4 L815.0,612.2 L817.5,613.9 L820.0,615.6 L822.5,617.3 L824.9,619.0 L827.3,620.6 L829.7,622.2 L832.2,623.9 L834.7,625.6 L837.3,627.4 L840.0,629.2 L843.5,631.6 L847.1,634.1 L850.8,636.6 L854.6,639.2 L858.5,641.9 L862.4,644.6 L866.2,647.2 L870.0,649.8 L873.7,652.4 L877.5,654.9 L881.2,657.5 L885.0,660.0 L888.7,662.6 L892.5,665.1 L896.2,667.6 L900.0,670.1 L903.7,672.5 L907.5,674.9 L911.2,677.3 L915.0,679.7 L918.7,682.0 L922.5,684.3 L926.2,686.7 L930.0,689.0 L933.7,691.3 L937.3,693.5 L940.9,695.7 L944.5,697.9 L948.2,700.2 L951.9,702.5 L955.9,704.8 L960.0,707.2 L965.6,710.4 L971.6,713.8 L977.8,717.2 L984.2,720.7 L990.7,724.3 L997.2,727.8 L1003.7,731.4 L1010.0,734.8 L1016.2,738.2 L1022.5,741.6 L1028.7,744.9 L1035.0,748.3 L1041.2,751.6 L1047.5,754.9 L1053.7,758.2 L1060.0,761.5 L1066.2,764.7 L1072.5,767.9 L1078.7,771.1 L1085.0,774.2 L1091.2,777.4 L1097.5,780.5 L1103.7,783.6 L1110.0,786.7 L1116.1,789.7 L1122.1,792.7 L1128.0,795.6 L1133.9,798.4 L1140.0,801.4 L1146.3,804.4 L1152.9,807.6 L1160.0,811.0 L1170.8,816.1 L1182.6,821.6 L1195.0,827.4 L1207.8,833.4 L1221.0,839.5 L1234.2,845.6 L1247.3,851.6 L1260.0,857.5 L1272.6,863.2 L1285.2,869.0 L1297.9,874.7 L1310.6,880.4 L1323.2,886.1 L1335.6,891.7 L1347.9,897.4 L1360.0,903.0 L1371.1,908.2 L1382.2,913.5 L1393.3,918.8 L1404.2,924.1 L1414.9,929.3 L1425.1,934.3 L1434.9,939.1 L1444.0,943.7 L1450.2,946.8 L1456.0,949.8 L1461.6,952.7 L1466.9,955.5 L1472.1,958.2 L1477.3,961.0 L1482.5,963.9 L1487.9,966.8 L1493.5,969.9 L1499.2,973.1 L1504.9,976.3 L1510.6,979.5 L1516.2,982.7 L1521.6,985.9 L1526.9,989.1 L1531.9,992.1 L1535.8,994.5 L1539.6,996.9 L1543.2,999.3 L1546.8,1001.6 L1550.3,1003.9 L1553.6,1006.2 L1556.9,1008.4 L1560.0,1010.5 L1562.4,1012.1 L1564.7,1013.7 L1566.9,1015.2 L1569.0,1016.7 L1571.1,1018.2 L1573.2,1019.7 L1575.4,1021.3 L1577.6,1023.0 L1580.3,1025.1 L1583.1,1027.4 L1585.9,1029.7 L1588.8,1032.1 L1591.6,1034.5 L1594.5,1036.9 L1597.3,1039.2 L1600.0,1041.5 L1602.5,1043.5 L1605.0,1045.5 L1607.4,1047.4 L1609.8,1049.3 L1612.3,1051.3 L1614.7,1053.3 L1617.1,1055.3 L1619.5,1057.5 L1622.2,1060.0 L1624.9,1062.7 L1627.6,1065.4 L1630.4,1068.1 L1633.0,1071.0 L1635.7,1073.8 L1638.2,1076.7 L1640.7,1079.5 L1643.0,1082.2 L1645.2,1085.0 L1647.4,1087.7 L1649.6,1090.5 L1651.7,1093.3 L1653.7,1096.1 L1655.5,1098.8 L1657.3,1101.4 L1658.7,1103.6 L1659.9,1105.7 L1661.2,1107.8 L1662.3,1109.9 L1663.4,1112.0 L1664.5,1114.0 L1665.5,1116.0 L1666.5,1117.9 L1667.3,1119.5 L1668.1,1121.0 L1668.8,1122.6 L1669.5,1124.1 L1670.2,1125.5 L1670.9,1127.0 L1671.7,1128.5 L1672.5,1130.0 L1673.4,1131.6 L1674.5,1133.1 L1675.5,1134.7 L1676.6,1136.3 L1677.7,1137.8 L1678.7,1139.4 L1679.6,1141.0 L1680.4,1142.5 L1681.0,1143.8 L1681.5,1145.1 L1681.9,1146.4 L1682.3,1147.7 L1682.7,1149.1 L1683.1,1150.4 L1683.4,1151.7 L1683.8,1153.0 L1684.2,1154.4 L1684.6,1155.7 L1685.0,1157.1 L1685.3,1158.5 L1685.7,1159.9 L1686.0,1161.2 L1686.4,1162.6 L1686.7,1164.0 L1687.0,1165.4 L1687.3,1166.7 L1687.6,1168.1 L1687.9,1169.5 L1688.2,1170.9 L1688.4,1172.2 L1688.7,1173.6 L1689.0,1175.0 L1689.3,1176.4 L1689.6,1177.7 L1689.9,1179.1 L1690.1,1180.5 L1690.4,1181.9 L1690.7,1183.2 L1690.9,1184.6 L1691.2,1186.0 L1691.4,1187.4 L1691.7,1188.7 L1691.9,1190.1 L1692.1,1191.5 L1692.3,1192.9 L1692.5,1194.2 L1692.7,1195.6 L1692.9,1197.0 L1693.1,1198.4 L1693.3,1199.7 L1693.6,1201.1 L1693.8,1202.5 L1694.0,1203.8 L1694.2,1205.2 L1694.4,1206.6 L1694.6,1208.0 L1694.8,1209.4 L1695.0,1210.8 L1695.1,1212.1 L1695.3,1213.5 L1695.5,1215.0 L1695.6,1216.5 L1695.8,1218.2 L1695.9,1220.0 L1696.2,1223.9 L1696.4,1228.4 L1696.6,1233.3 L1696.9,1238.5 L1697.1,1244.0 L1697.3,1249.4 L1697.4,1254.8 L1697.6,1260.0 L1697.7,1264.9 L1697.9,1269.6 L1698.0,1274.2 L1698.1,1278.9 L1698.2,1283.7 L1698.3,1288.7 L1698.3,1294.1 L1698.4,1300.0 L1698.5,1310.3 L1698.5,1321.8 L1698.5,1334.1 L1698.5,1347.0 L1698.5,1360.3 L1698.5,1373.8 L1698.5,1387.1 L1698.5,1400.0 L1698.5,1413.0 L1698.5,1426.1 L1698.5,1439.2 L1698.5,1452.3 L1698.5,1465.5 L1698.5,1478.7 L1698.5,1491.9 L1698.5,1505.0" stroke="#c800aa"/>
<path d="M419.5,1502.0 L419.5,1500.6 L419.6,1499.2 L419.6,1497.9 L419.7,1496.5 L419.7,1495.1 L419.8,1493.6 L419.8,1491.9 L419.9,1490.0 L420.1,1485.3 L420.5,1479.5 L420.9,1472.9 L421.3,1465.9 L421.8,1458.9 L422.2,1452.0 L422.6,1445.6 L422.9,1440.0 L423.1,1436.8 L423.2,1434.0 L423.3,1431.3 L423.4,1428.8 L423.4,1426.2 L423.5,1423.5 L423.7,1420.5 L423.8,1417.0 L424.1,1409.4 L424.6,1400.6 L425.0,1390.8 L425.5,1380.5 L426.1,1369.7 L426.6,1358.9 L427.2,1348.2 L427.7,1338.0 L428.2,1328.1 L428.7,1318.2 L429.3,1308.4 L429.8,1298.5 L430.3,1288.6 L430.9,1278.7 L431.6,1268.9 L432.3,1259.0 L433.1,1249.0 L433.9,1238.9 L434.8,1228.7 L435.7,1218.5 L436.7,1208.5 L437.7,1198.6 L438.6,1189.1 L439.6,1180.0 L440.4,1172.7 L441.1,1165.6 L441.9,1158.6 L442.7,1151.7 L443.5,1145.1 L444.3,1138.7 L445.1,1132.7 L446.0,1127.0 L446.6,1123.2 L447.3,1119.5 L447.9,1116.0 L448.6,1112.7 L449.3,1109.4 L450.0,1106.2 L450.7,1103.1 L451.5,1100.0 L452.2,1097.3 L452.9,1094.8 L453.7,1092.2 L454.5,1089.8 L455.2,1087.3 L456.0,1084.9 L456.8,1082.5 L457.6,1080.0 L458.4,1077.5 L459.1,1075.0 L459.9,1072.5 L460.7,1070.1 L461.4,1067.6 L462.3,1065.2 L463.1,1062.8 L464.0,1060.5 L464.8,1058.4 L465.7,1056.4 L466.6,1054.4 L467.4,1052.5 L468.4,1050.6 L469.4,1048.7 L470.4,1046.8 L471.5,1045.0 L472.7,1043.2 L474.0,1041.3 L475.3,1039.5 L476.7,1037.7 L478.1,1035.9 L479.5,1034.3 L481.0,1032.7 L482.4,1031.2 L483.6,1030.0 L484.8,1028.9 L486.0,1027.9 L487.2,1026.9 L488.4,1026.0 L489.7,1025.1 L491.0,1024.2 L492.3,1023.3 L493.8,1022.4 L495.4,1021.5 L497.0,1020.6 L498.7,1019.7 L500.4,1018.9 L502.1,1018.1 L503.8,1017.4 L505.5,1016.7 L507.2,1016.0 L508.9,1015.4 L510.7,1014.8 L512.4,1014.3 L514.2,1013.8 L516.1,1013.3 L518.0,1012.9 L520.0,1012.5 L522.8,1012.0 L525.8,1011.7 L528.9,1011.4 L532.2,1011.1 L535.4,1010.9 L538.7,1010.7 L541.8,1010.5 L544.8,1010.3 L547.3,1010.1 L549.7,1010.0 L552.0,1009.8 L554.4,1009.7 L556.7,1009.6 L559.1,1009.5 L561.5,1009.4 L564.0,1009.3 L567.1,1009.2 L570.3,1009.2 L573.7,1009.1 L577.1,1009.1 L580.4,1009.1 L583.7,1009.0 L587.0,1009.0 L590.0,1009.0 L592.4,1009.0 L594.7,1009.0 L596.9,1009.0 L599.1,1009.0 L601.3,1009.0 L603.5,1009.0 L605.7,1008.9 L608.0,1008.8 L610.7,1008.6 L613.4,1008.4 L616.1,1008.1 L618.9,1007.8 L621.7,1007.4 L624.5,1007.0 L627.2,1006.5 L630.0,1006.0 L632.8,1005.4 L635.7,1004.8 L638.6,1004.1 L641.5,1003.4 L644.3,1002.6 L647.0,1001.8 L649.6,1000.9 L652.0,1000.0 L653.7,999.2 L655.3,998.4 L656.9,997.6 L658.4,996.8 L659.8,995.9 L661.2,995.0 L662.6,994.1 L664.0,993.2 L665.3,992.4 L666.6,991.5 L667.8,990.7 L669.0,989.8 L670.3,988.9 L671.5,988.1 L672.7,987.2 L674.0,986.3 L675.3,985.3 L676.7,984.3 L678.1,983.3 L679.4,982.3 L680.8,981.2 L682.2,980.3 L683.6,979.4 L685.0,978.6 L686.3,978.0 L687.6,977.4 L688.9,976.9 L690.2,976.4 L691.5,976.0 L692.9,975.6 L694.4,975.2 L696.0,974.7 L698.6,974.0 L701.4,973.3 L704.4,972.5 L707.6,971.8 L710.8,971.1 L714.0,970.4 L717.1,969.8 L720.0,969.2 L722.4,968.7 L724.7,968.3 L726.9,967.9 L729.2,967.6 L731.4,967.2 L733.6,966.9 L735.8,966.6 L738.1,966.3 L740.5,966.0 L742.8,965.8 L745.2,965.5 L747.6,965.3 L750.0,965.1 L752.5,964.9 L755.1,964.8 L757.7,964.6 L761.1,964.4 L764.6,964.3 L768.3,964.1 L772.0,964.0 L775.8,963.9 L779.6,963.9 L783.4,963.8 L787.1,963.8 L790.8,963.8 L794.6,963.8 L798.4,963.9 L802.2,963.9 L806.0,964.0 L809.6,964.1 L813.2,964.3 L816.6,964.4 L819.2,964.5 L821.6,964.6 L823.9,964.8 L826.2,964.9 L828.5,965.1 L830.9,965.3 L833.5,965.5 L836.2,965.7 L840.5,966.0 L845.1,966.4 L849.9,966.9 L855.0,967.3 L860.1,967.8 L865.3,968.3 L870.4,968.8 L875.4,969.3 L880.3,969.8 L885.2,970.4 L890.1,970.9 L895.0,971.5 L899.9,972.0 L904.8,972.6 L909.7,973.2 L914.6,973.8 L919.5,974.4 L924.4,975.0 L929.3,975.6 L934.3,976.2 L939.2,976.9 L944.1,977.5 L949.0,978.1 L953.9,978.7 L958.8,979.3 L963.6,979.9 L968.4,980.5 L973.3,981.1 L978.1,981.6 L983.1,982.2 L988.0,982.8 L993.1,983.4 L998.7,984.0 L1004.2,984.6 L1009.7,985.2 L1015.4,985.8 L1021.2,986.4 L1027.2,987.1 L1033.4,987.8 L1040.0,988.7 L1049.7,990.1 L1060.1,991.6 L1071.0,993.3 L1082.3,995.0 L1093.7,996.9 L1105.3,998.8 L1116.7,1000.6 L1127.9,1002.4 L1138.9,1004.2 L1149.9,1005.9 L1160.9,1007.7 L1171.9,1009.5 L1182.8,1011.3 L1193.8,1013.1 L1204.8,1014.9 L1215.8,1016.7 L1226.9,1018.5 L1238.2,1020.3 L1249.6,1022.2 L1261.0,1024.0 L1272.2,1025.8 L1283.1,1027.6 L1293.6,1029.3 L1303.7,1031.0 L1311.3,1032.3 L1318.4,1033.4 L1325.2,1034.6 L1331.9,1035.7 L1338.6,1036.8 L1345.4,1038.0 L1352.5,1039.2 L1360.0,1040.4 L1370.0,1042.0 L1380.8,1043.7 L1392.0,1045.5 L1403.4,1047.3 L1414.7,1049.1 L1425.4,1050.8 L1435.3,1052.5 L1444.0,1054.0 L1448.7,1054.9 L1452.9,1055.6 L1456.7,1056.4 L1460.4,1057.1 L1464.0,1057.9 L1467.8,1058.7 L1471.7,1059.5 L1476.0,1060.5 L1482.3,1061.9 L1489.1,1063.5 L1496.2,1065.2 L1503.4,1067.0 L1510.8,1068.8 L1518.1,1070.7 L1525.2,1072.6 L1531.9,1074.5 L1537.8,1076.2 L1543.6,1077.9 L1549.4,1079.7 L1555.1,1081.5 L1560.6,1083.3 L1565.9,1085.1 L1571.0,1086.9 L1575.8,1088.6 L1579.2,1089.9 L1582.4,1091.1 L1585.4,1092.3 L1588.4,1093.5 L1591.2,1094.8 L1594.1,1096.0 L1597.0,1097.3 L1600.0,1098.6 L1603.2,1100.0 L1606.4,1101.3 L1609.6,1102.7 L1612.8,1104.1 L1616.0,1105.6 L1619.1,1107.1 L1622.1,1108.7 L1625.0,1110.3 L1627.6,1111.9 L1630.1,1113.6 L1632.5,1115.4 L1634.9,1117.2 L1637.2,1119.1 L1639.4,1120.9 L1641.5,1122.6 L1643.6,1124.3 L1645.2,1125.6 L1646.6,1126.8 L1648.1,1128.0 L1649.4,1129.1 L1650.8,1130.3 L1652.1,1131.5 L1653.4,1132.7 L1654.8,1134.0 L1656.3,1135.4 L1657.7,1136.8 L1659.2,1138.3 L1660.7,1139.8 L1662.1,1141.3 L1663.5,1142.8 L1664.9,1144.4 L1666.2,1146.0 L1667.4,1147.6 L1668.6,1149.2 L1669.7,1150.9 L1670.8,1152.5 L1671.9,1154.2 L1672.9,1155.9 L1673.9,1157.6 L1674.8,1159.2 L1675.6,1160.6 L1676.4,1162.1 L1677.1,1163.5 L1677.8,1164.9 L1678.5,1166.3 L1679.1,1167.7 L1679.8,1169.1 L1680.4,1170.5 L1681.0,1171.9 L1681.6,1173.3 L1682.2,1174.7 L1682.8,1176.1 L1683.4,1177.5 L1683.9,1179.0 L1684.5,1180.4 L1685.0,1181.8 L1685.5,1183.2 L1686.1,1184.7 L1686.6,1186.1 L1687.1,1187.5 L1687.6,1189.0 L1688.1,1190.4 L1688.6,1191.8 L1689.0,1193.1 L1689.3,1194.2 L1689.6,1195.3 L1689.9,1196.3 L1690.1,1197.4 L1690.4,1198.4 L1690.6,1199.4 L1690.9,1200.5 L1691.1,1201.5 L1691.3,1202.6 L1691.6,1203.6 L1691.8,1204.6 L1692.1,1205.7 L1692.3,1206.8 L1692.5,1207.8 L1692.7,1208.9 L1692.9,1210.0 L1693.1,1211.2 L1693.2,1212.3 L1693.3,1213.4 L1693.4,1214.5 L1693.6,1215.7 L1693.7,1217.0 L1693.8,1218.4 L1693.9,1220.0 L1694.2,1223.7 L1694.5,1228.1 L1694.9,1233.0 L1695.2,1238.3 L1695.6,1243.8 L1695.9,1249.4 L1696.2,1254.8 L1696.5,1260.0 L1696.8,1265.0 L1697.0,1270.0 L1697.2,1275.0 L1697.4,1280.0 L1697.6,1285.0 L1697.8,1290.0 L1698.0,1295.0 L1698.2,1300.0" stroke="#c800aa"/>
<polygon points="413.8,1498 424,1498 424,1501.5 415.8,1510.5 413.8,1510.8" fill="#c800aa" stroke="none"/>
</g>
<g clip-path="url(#digits)">
<g class="tk" text-anchor="end">
<text transform="translate(280.2,366.7) scale(1,1.035)">-<tspan dx="4.2">1</tspan><tspan dx="-2.2">.5</tspan></text>
<text transform="translate(283.1,591.3) scale(1,1.035)">-<tspan dx="4.2">1</tspan></text>
<text transform="translate(280.2,815.9) scale(1,1.035)">-0.5</text>
<text transform="translate(280.2,1040.5) scale(1,1.035)">0</text>
<text transform="translate(280.2,1265.1) scale(1,1.035)">0.5</text>
<text transform="translate(283.1,1489.7) scale(1,1.035)">1</text>
</g>
<g class="tk" text-anchor="middle">
<text transform="translate(418.5,1725) scale(1,1.035)">0</text>
<text transform="translate(674.5,1725) scale(1,1.035)">0.2</text>
<text transform="translate(930.5,1725) scale(1,1.035)">0.4</text>
<text transform="translate(1186.5,1725) scale(1,1.035)">0.6</text>
<text transform="translate(1442.5,1725) scale(1,1.035)">0.8</text>
<text transform="translate(1700.2,1725) scale(1,1.035)">1</text>
</g>
<g class="lg">
<text transform="translate(1449.5,421) scale(1,1.025)">30*4<tspan dx="2.3">1</tspan></text>
<text transform="translate(1449.5,492) scale(1,1.025)">80*6<tspan dx="2.3">1</tspan></text>
<text transform="translate(1440.6,560) scale(1,1.025)"><tspan dx="2.3">1</tspan><tspan dx="-2.3">2</tspan>0*<tspan dx="2.3">1</tspan><tspan dx="-2.3">6</tspan><tspan dx="2.3">1</tspan></text>
<text transform="translate(1440.6,620) scale(1,1.025)">200*20<tspan dx="2.3">1</tspan></text>
</g>
</g>
<text class="ttl" x="1076" y="1788" text-anchor="middle">x/c</text>
<text class="ttl" transform="translate(176.8,1006.8) rotate(-90) scale(0.98,1.075)">C</text>
<text class="ttl" style="font-size:39.5px" transform="translate(196.5,958) rotate(-90)">p</text>
<g shape-rendering="crispEdges">
<rect x="1079" y="405" width="8" height="8" fill="#f00000"/>
<rect x="1088" y="405" width="27" height="8" fill="#f00000"/>
<rect x="1116" y="405" width="8" height="8" fill="#f00000"/>
<rect x="1125" y="405" width="8" height="8" fill="#f00000"/>
<rect x="1134" y="405" width="8" height="8" fill="#f00000"/>
<rect x="1143" y="405" width="18" height="8" fill="#f00000"/>
<rect x="1162" y="405" width="8" height="8" fill="#f00000"/>
<rect x="1171" y="405" width="8" height="8" fill="#f00000"/>
<rect x="1180" y="405" width="8" height="8" fill="#f00000"/>
<rect x="1189" y="405" width="8" height="8" fill="#f00000"/>
<rect x="1198" y="405" width="18" height="8" fill="#f00000"/>
<rect x="1217" y="405" width="8" height="8" fill="#f00000"/>
<rect x="1226" y="405" width="8" height="8" fill="#f00000"/>
<rect x="1235" y="405" width="8" height="8" fill="#f00000"/>
<rect x="1244" y="405" width="8" height="8" fill="#f00000"/>
<rect x="1253" y="405" width="18" height="8" fill="#f00000"/>
<rect x="1272" y="405" width="8" height="8" fill="#f00000"/>
<rect x="1281" y="405" width="8" height="8" fill="#f00000"/>
<rect x="1290" y="405" width="8" height="8" fill="#f00000"/>
<rect x="1299" y="405" width="8" height="8" fill="#f00000"/>
<rect x="1308" y="405" width="18" height="8" fill="#f00000"/>
<rect x="1327" y="405" width="8" height="8" fill="#f00000"/>
<rect x="1083" y="471" width="37" height="8" fill="#00d200"/>
<rect x="1134" y="471" width="8" height="8" fill="#00d200"/>
<rect x="1156" y="471" width="38" height="8" fill="#00d200"/>
<rect x="1208" y="471" width="8" height="8" fill="#00d200"/>
<rect x="1230" y="471" width="37" height="8" fill="#00d200"/>
<rect x="1281" y="471" width="8" height="8" fill="#00d200"/>
<rect x="1303" y="471" width="29" height="8" fill="#00d200"/>
<rect x="1083" y="537" width="56" height="8" fill="#2a2aff"/>
<rect x="1156" y="537" width="56" height="8" fill="#2a2aff"/>
<rect x="1230" y="537" width="56" height="8" fill="#2a2aff"/>
<rect x="1303" y="537" width="29" height="8" fill="#2a2aff"/>
<rect x="1083" y="603" width="249" height="8" fill="#c800aa"/>
</g>
</svg>
</body></html>
